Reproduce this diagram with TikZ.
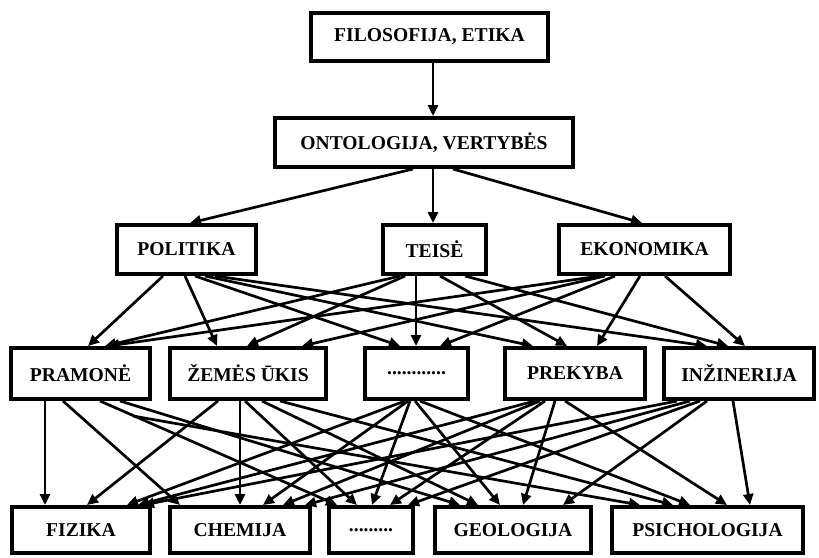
\documentclass[tikz,border=0pt]{standalone}
\usepackage{fontspec}
\setmainfont{Liberation Serif}
\usetikzlibrary{arrows.meta,calc}
\tikzset{
  box/.style={draw, line width=4pt, inner sep=0pt, font=\fontsize{19.6}{22}\selectfont\bfseries, fill=white},
  arr/.style={line width=2.7pt, -{Triangle[length=11pt,width=10pt]}},
}
\newcommand\arw[4]{\draw[arr] (#1.south -| #2,0) -- (#3.north -| #4,0);}
\begin{document}
\begin{tikzpicture}[x=1pt,y=-1pt]
\useasboundingbox (0,0) rectangle (819,557);
% row 1
\node[box, minimum width=237, minimum height=48] (filo) at (429.5,37) {FILOSOFIJA, ETIKA};
% row 2
\node[box, minimum width=298, minimum height=49] (onto) at (424,142.5) {ONTOLOGIJA, VERTYBĖS};
% row 3
\node[box, minimum width=139, minimum height=49] (pol) at (186.5,249.5) {POLITIKA};
\node[box, minimum width=103, minimum height=49] (tei) at (434.5,249.5) {TEISĖ};
\node[box, minimum width=171, minimum height=49] (eko) at (644.5,249.5) {EKONOMIKA};
% row 4
\node[box, minimum width=139, minimum height=51] (pra) at (80.5,373.5) {PRAMONĖ};
\node[box, minimum width=156, minimum height=51] (zem) at (248,373.5) {ŽEMĖS ŪKIS};
\node[box, minimum width=103, minimum height=51] (dota) at (416.5,373.5) {............};
\node[box, minimum width=140, minimum height=51] (pre) at (575,373.5) {PREKYBA};
\node[box, minimum width=150, minimum height=51] (inz) at (739,373.5) {INŽINERIJA};
% row 5
\node[box, minimum width=138, minimum height=46] (fiz) at (81,530) {FIZIKA};
\node[box, minimum width=140, minimum height=46] (che) at (240,530) {CHEMIJA};
\node[box, minimum width=84, minimum height=46] (dotb) at (371,530) {.........};
\node[box, minimum width=156, minimum height=46] (geo) at (513,530) {GEOLOGIJA};
\node[box, minimum width=191, minimum height=46] (psi) at (707.5,530) {PSICHOLOGIJA};
% row 1 -> 2
\arw{filo}{433}{onto}{433}
% row 2 -> 3
\arw{onto}{413}{pol}{190}
\arw{onto}{433}{tei}{433}
\arw{onto}{453}{eko}{642}
% row 3 -> 4
\arw{pol}{163}{pra}{88}
\arw{pol}{185}{zem}{217}
\arw{pol}{195}{dota}{400}
\arw{pol}{205}{pre}{533}
\arw{pol}{215}{inz}{707}
\arw{tei}{400}{pra}{105}
\arw{tei}{405}{zem}{247}
\arw{tei}{416}{dota}{416}
\arw{tei}{440}{pre}{567}
\arw{tei}{465}{inz}{728}
\arw{eko}{600}{pra}{108}
\arw{eko}{605}{zem}{302}
\arw{eko}{615}{dota}{440}
\arw{eko}{640}{pre}{597}
\arw{eko}{665}{inz}{745}
% row 4 -> 5
\arw{pra}{45}{fiz}{45}
\arw{pra}{63}{che}{180}
\arw{pra}{100}{dotb}{337}
\arw{pra}{120}{geo}{460}
\draw[arr] ($(pra.south -| 133,0)+(0,15)$) -- (psi.north -| 640,0);
\arw{zem}{218}{fiz}{87}
\arw{zem}{240}{che}{240}
\arw{zem}{245}{dotb}{357}
\arw{zem}{262}{geo}{478}
\arw{zem}{280}{psi}{673}
\arw{dota}{405}{fiz}{127}
\arw{dota}{408}{che}{263}
\arw{dota}{410}{dotb}{372}
\arw{dota}{415}{geo}{500}
\arw{dota}{420}{psi}{690}
\arw{pre}{535}{fiz}{138}
\arw{pre}{540}{che}{283}
\arw{pre}{545}{dotb}{390}
\arw{pre}{555}{geo}{523}
\arw{pre}{565}{psi}{727}
\arw{inz}{677}{fiz}{143}
\arw{inz}{690}{che}{305}
\arw{inz}{700}{dotb}{408}
\arw{inz}{707}{geo}{563}
\arw{inz}{733}{psi}{750}
\end{tikzpicture}
\end{document}
